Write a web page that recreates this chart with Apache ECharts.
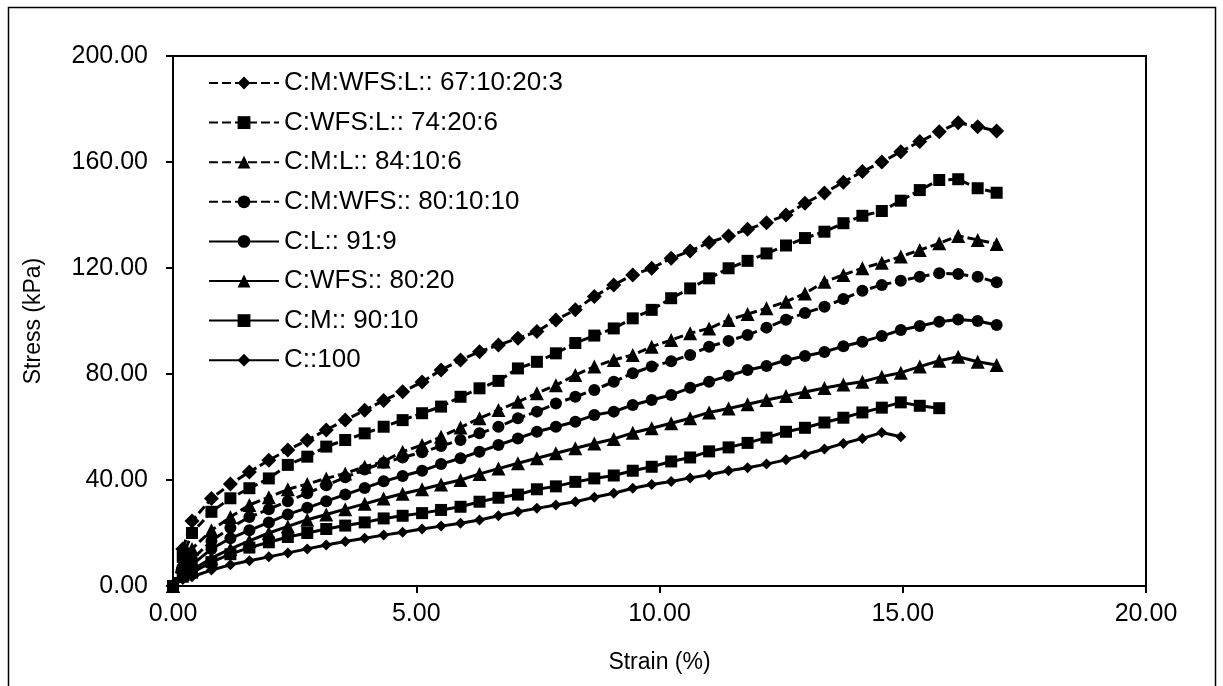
<!DOCTYPE html>
<html>
<head>
<meta charset="utf-8">
<script src="https://cdn.jsdelivr.net/npm/echarts@6/dist/echarts.min.js"></script>
<style>
  html, body { margin: 0; padding: 0; background: #fff; }
  #chart { width: 1223px; height: 686px; }
</style>
</head>
<body>
<div id="chart"></div>
<script>
// Strain readings (%) shared by every mix
const strain = [0, 0.20, 0.39, 0.79, 1.18, 1.57, 1.97, 2.36, 2.76, 3.15, 3.54, 3.94, 4.33, 4.72,
  5.12, 5.51, 5.91, 6.30, 6.69, 7.09, 7.48, 7.87, 8.27, 8.66, 9.06, 9.45, 9.84, 10.24, 10.63,
  11.02, 11.42, 11.81, 12.20, 12.60, 12.99, 13.39, 13.78, 14.17, 14.57, 14.96, 15.35, 15.75,
  16.14, 16.54, 16.93];

// Stress (kPa) for each mix, one value per strain reading
const stressCMWFSL = [0, 14, 24.5, 33, 38.5, 43, 47.5, 51.3, 55, 58.9, 62.6, 66.3, 70, 73.3, 77,
  81.5, 85.3, 88.4, 90.9, 93.5, 96, 100.4, 104.2, 109.2, 113.6, 117.4, 119.9, 123.7, 126.4,
  129.6, 132.1, 134.6, 137.1, 140, 144.4, 148.3, 152.4, 156.4, 160, 163.9, 167.7, 171.4,
  174.8, 173.3, 171.7];
const stressCWFSL = [0, 11, 20, 28, 33.1, 36.9, 40.6, 45.7, 48.8, 52.6, 55.1, 57.6, 60.1, 62.6,
  65.2, 67.7, 71.4, 74.6, 77.4, 82.1, 84.6, 87.8, 91.7, 94.5, 97.2, 101, 104.2, 108.6, 112.3,
  116.1, 119.9, 122.7, 125.5, 128.5, 131.3, 133.7, 136.9, 139.7, 141.5, 145.4, 149.4, 153.2,
  153.5, 150.1, 148.4];
const stressCML = [0, 9, 14, 21, 26, 30.6, 33.5, 36.5, 38.5, 40.6, 42.5, 45, 47, 50.7, 53.2,
  56.3, 59.8, 63.3, 66.4, 69.5, 72.7, 75.8, 79.6, 82.8, 85.3, 87.2, 90.3, 92.8, 95.4, 97.2,
  100.4, 102.6, 104.8, 107.3, 110.4, 114.8, 117.4, 119.9, 122, 124.3, 126.8, 129.3, 132.1,
  130.6, 129.1];
const stressCMWFS = [0, 7, 10, 17, 22, 26, 29, 32, 35, 38, 41, 44, 46.5, 48.5, 50.5, 52.8,
  55.1, 57.6, 60.1, 63.3, 65.8, 68.9, 71.4, 74, 77.1, 80.3, 82.8, 84.8, 87.2, 90.3, 92.5,
  94.7, 97.5, 100.5, 103, 105.4, 108.3, 111.4, 113.6, 115.2, 116.7, 118, 117.7, 116.7, 114.6];
const stressCL = [0, 6, 8, 14, 18, 21, 24, 27, 29.5, 32, 34.5, 37, 39.5, 41.5, 43.5, 46, 48.2,
  50.7, 53.2, 55.7, 58.2, 60.1, 62, 64.5, 65.8, 68.3, 70.2, 72.1, 74.8, 77.1, 79.3, 81.5, 83,
  85.2, 86.8, 88.3, 90.5, 92.2, 94.3, 96.6, 98.1, 99.7, 100.6, 100, 98.5];
const stressCWFS = [0, 4.5, 6, 10.5, 14, 17, 20, 22.5, 25, 27, 29, 31, 33, 34.8, 36.5, 38.3,
  40, 42.3, 44.3, 46.3, 48.2, 50.1, 52, 53.8, 55.5, 57.8, 59.5, 61.4, 63.3, 65.5, 67, 68.6,
  70.2, 71.7, 73.2, 74.7, 76, 77.1, 79, 80.5, 82.8, 85, 86.5, 84.6, 83.4];
const stressCM = [0, 3.5, 5, 9, 12, 14.5, 16.5, 18.5, 20, 21.5, 22.8, 24, 25.5, 26.5, 27.5,
  28.7, 29.9, 31.8, 33.3, 34.5, 36.5, 37.6, 39.3, 40.6, 41.7, 43.5, 45, 47, 48.5, 50.8, 52.3,
  54, 56, 58.2, 59.7, 61.7, 63.5, 65.5, 67.3, 69.3, 68, 67.1];
const stressC = [0, 2.5, 3.5, 6, 8, 9.5, 11, 12.5, 14, 15.5, 16.8, 18, 19.2, 20.3, 21.5, 22.6,
  23.7, 24.9, 26.5, 28, 29.3, 30.6, 31.8, 33.5, 35, 36.9, 38.3, 39.4, 40.8, 42, 43.5, 44.6, 46,
  47.6, 49.6, 51.7, 53.8, 55.7, 57.9, 56.3];

const mixNames = ['C:M:WFS:L:: 67:10:20:3', 'C:WFS:L:: 74:20:6', 'C:M:L:: 84:10:6',
  'C:M:WFS:: 80:10:10', 'C:L:: 91:9', 'C:WFS:: 80:20', 'C:M:: 90:10', 'C::100'];

const xTicks = { min: 0, max: 20, interval: 5 };
const yTicks = { min: 0, max: 200, interval: 40 };

const FONT = '"Liberation Sans", Arial, sans-serif';

function pairs(values) {
  return values.map((v, i) => [strain[i], v]);
}

// name, values, marker, marker size, dashed?
const seriesDefs = [
  [mixNames[0], stressCMWFSL, 'diamond', 15, true],
  [mixNames[1], stressCWFSL, 'rect', 12, true],
  [mixNames[2], stressCML, 'triangle', 14, true],
  [mixNames[3], stressCMWFS, 'circle', 12, true],
  [mixNames[4], stressCL, 'circle', 12, false],
  [mixNames[5], stressCWFS, 'triangle', 14, false],
  [mixNames[6], stressCM, 'rect', 12, false],
  [mixNames[7], stressC, 'diamond', 11, false]
];

const series = seriesDefs.map(([name, values, symbol, size, dashed]) => ({
  name: name,
  type: 'line',
  data: pairs(values),
  symbol: symbol,
  symbolSize: size,
  showSymbol: true,
  itemStyle: { color: '#000' },
  lineStyle: { color: '#000', width: 3, type: dashed ? [9, 4] : 'solid' },
  emphasis: { disabled: true },
  z: 2
}));

const chart = echarts.init(document.getElementById('chart'), null, { renderer: 'canvas' });
chart.setOption({
  animation: false,
  backgroundColor: '#fff',
  textStyle: { fontFamily: FONT, color: '#000' },
  graphic: [{
    type: 'rect',
    shape: { x: 8.5, y: 7.5, width: 1207, height: 700 },
    style: { fill: 'none', stroke: '#000', lineWidth: 1.5 },
    silent: true,
    z: -10
  }],
  grid: {
    left: 173, right: 77, top: 56, bottom: 100,
    show: true, borderColor: '#000', borderWidth: 2, backgroundColor: 'transparent'
  },
  legend: {
    orient: 'vertical',
    left: 208,
    top: 70,
    padding: 0,
    itemWidth: 70,
    itemHeight: 16,
    itemGap: 13.6,
    selectedMode: false,
    textStyle: { fontSize: 26, fontFamily: FONT, color: '#000', lineHeight: 26 },
    data: mixNames
  },
  xAxis: {
    type: 'value',
    min: xTicks.min, max: xTicks.max, interval: xTicks.interval,
    name: 'Strain (%)',
    nameLocation: 'middle',
    nameGap: 65,
    nameTextStyle: { fontSize: 23, fontFamily: FONT, color: '#000' },
    axisLine: { show: true, onZero: false, lineStyle: { color: '#000', width: 2 } },
    axisTick: { show: true, inside: false, length: 7, lineStyle: { color: '#000', width: 2 } },
    axisLabel: { fontSize: 25, fontFamily: FONT, color: '#000', margin: 16,
      formatter: v => v.toFixed(2) },
    splitLine: { show: false }
  },
  yAxis: {
    type: 'value',
    min: yTicks.min, max: yTicks.max, interval: yTicks.interval,
    name: 'Stress (kPa)',
    nameLocation: 'middle',
    nameGap: 128,
    nameRotate: 90,
    nameTextStyle: { fontSize: 23, fontFamily: FONT, color: '#000' },
    axisLine: { show: true, onZero: false, lineStyle: { color: '#000', width: 2 } },
    axisTick: { show: true, inside: false, length: 7, lineStyle: { color: '#000', width: 2 } },
    axisLabel: { fontSize: 25, fontFamily: FONT, color: '#000', margin: 25,
      formatter: v => v.toFixed(2) },
    splitLine: { show: false }
  },
  series: series
});
</script>
</body>
</html>
